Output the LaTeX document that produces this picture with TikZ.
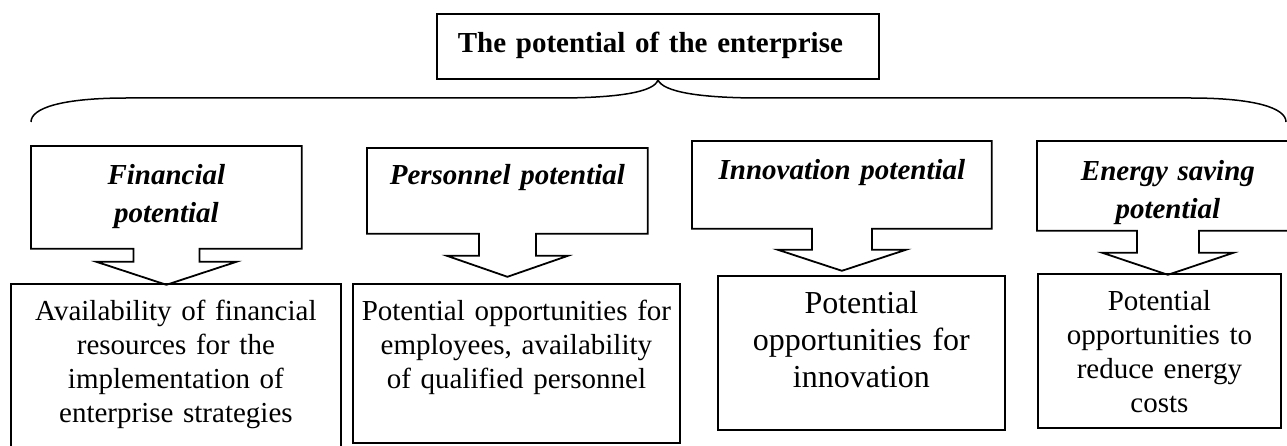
\documentclass[tikz,border=0pt]{standalone}
\usepackage{fontspec}
\setmainfont{Liberation Serif}
\usetikzlibrary{%
  calc,% wg. ($..$)
  positioning%
}

% header box with the arrow below it
\newcommand{\potarrow}[5]{%
  \draw[potline] (#1.south west) -- (#1.north west) -- (#1.north east) -- (#1.south east)
    -- ($(#1.south)+(#2,0)$) -- ($(#1.south)+(#2,#4)$) -- ($(#1.south)+(#3,#4)$)
    -- ($(#1.south)+(0,#4+#5)$)
    -- ($(#1.south)+(-#3,#4)$) -- ($(#1.south)+(-#2,#4)$) -- ($(#1.south)+(-#2,0)$) -- cycle;}

\begin{document}
\begin{tikzpicture}
  [
  x=1pt, y=-1pt,
  line width=1.8pt,
  potline/.style={draw=black, line width=1.8pt, line join=miter},
  potbox/.style={inner sep=0pt, anchor=north west, align=center,
    font=\fontsize{29pt}{38pt}\selectfont\bfseries\itshape},
  resbox/.style={draw=black, inner sep=0pt, anchor=north west, align=center,
    font=\fontsize{29pt}{34pt}\selectfont},
  ]
\useasboundingbox (0,0) rectangle (1287,446);

\node[draw=black, anchor=north west, inner ysep=0pt, inner xsep=21pt, align=left,
  text width=400pt, text height=39pt, text depth=26pt,
  font=\fontsize{29pt}{34pt}\selectfont\bfseries] (title) at (436,13) {The potential of the enterprise};

% brace
\coordinate (bl) at (31,122);
\coordinate (br) at (1286,122);
\draw[line width=1.5pt] (bl) .. controls (31,108) and (62,98) .. (127,98) -- (557,98)
  .. controls (618,98) and (655,92) .. (title.south)
  .. controls (663,92) and (700,98) .. (761,98) -- (1190,98)
  .. controls (1255,98) and (1286,108) .. (br);

% potentials
\node[potbox, text width=269pt, text height=38pt, text depth=63pt] (fin) at (31,146) {Financial\\potential};
\node[potbox, text width=279pt, text height=36pt, text depth=48pt] (pers) at (367,148) {Personnel potential};
\node[potbox, text width=298pt, text height=38pt, text depth=48pt] (inno) at (692,141) {Innovation potential};
\node[potbox, text width=260pt, text height=39pt, text depth=49pt] (ener) at (1037,141) {Energy saving\\potential};

\potarrow{fin}{33}{70}{13}{23}
\potarrow{pers}{28.5}{60.5}{22}{21}
\potarrow{inno}{30}{64}{21}{21}
\potarrow{ener}{31}{65.5}{22}{22}

% what they mean
\node[resbox, text width=330pt, text height=37pt, text depth=128pt] (res1) at (10,283)
  {Availability of financial\\resources for the\\implementation of\\enterprise strategies};
\node[resbox, text width=327pt, text height=37pt, text depth=122pt] (res2) at (352,283)
  {Potential opportunities for\\employees, availability\\of qualified personnel};
\node[resbox, text width=287pt, text height=38pt, text depth=116pt,
  font=\fontsize{32pt}{37pt}\selectfont] (res3) at (717,275)
  {Potential\\opportunities for\\innovation};
\node[resbox, text width=243pt, text height=37pt, text depth=117pt] (res4) at (1037,273)
  {Potential\\opportunities to\\reduce energy\\costs};
\end{tikzpicture}
\end{document}
